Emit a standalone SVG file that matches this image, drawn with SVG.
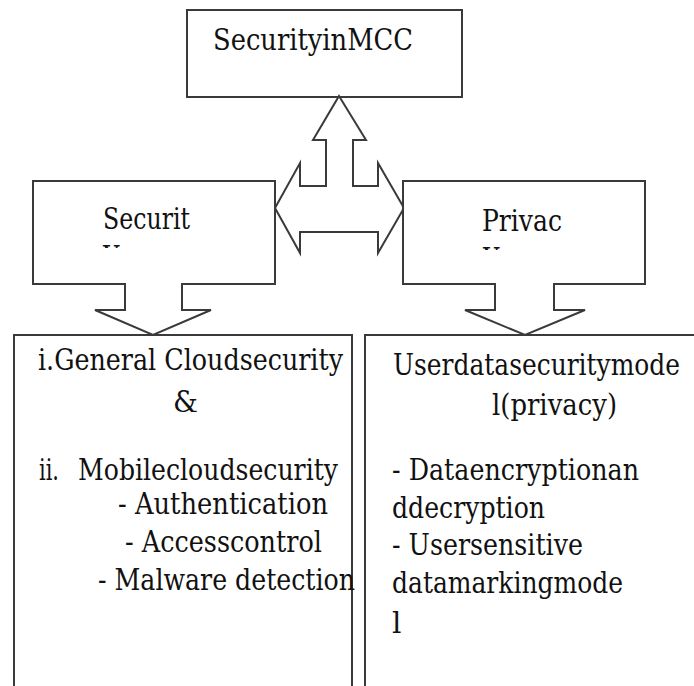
<svg xmlns="http://www.w3.org/2000/svg" width="694" height="686" viewBox="0 0 694 686">
<style>
.box{fill:#fff;stroke:#3a3a3a;stroke-width:2;stroke-linejoin:miter}
text{font-family:'DejaVu Serif','Liberation Serif',serif;font-size:29.5px;fill:#111}
</style>
<defs>
<clipPath id="c1"><rect x="95" y="243" width="40" height="5"/></clipPath>
<clipPath id="c2"><rect x="475" y="245" width="40" height="5"/></clipPath>
</defs>
<rect width="694" height="686" fill="#fff"/>
<g id="security-in-mcc">
<rect class="box" x="187" y="10" width="275" height="87"/>
<text x="213" y="50" textLength="200" lengthAdjust="spacingAndGlyphs">SecurityinMCC</text>
</g>
<g id="connectors">
<path class="box" d="M339,96 L366,140 H353 V186 H378 V163 L404,208 L378,253 V232 H300 V253 L275,208 L300,163 V186 H326 V140 H313 Z"/>
</g>
<g id="general-security-box">
<rect class="box" x="14" y="335" width="338" height="400"/>
<text x="38" y="370" textLength="305" lengthAdjust="spacingAndGlyphs">i.General Cloudsecurity</text>
<text x="173" y="412" textLength="25" lengthAdjust="spacingAndGlyphs">&amp;</text>
<text x="39" y="480" textLength="20" lengthAdjust="spacingAndGlyphs">ii.</text>
<text x="78" y="480" textLength="260" lengthAdjust="spacingAndGlyphs">Mobilecloudsecurity</text>
<text x="118" y="514" textLength="210" lengthAdjust="spacingAndGlyphs">- Authentication</text>
<text x="125" y="552" textLength="197" lengthAdjust="spacingAndGlyphs">- Accesscontrol</text>
<text x="98" y="590" textLength="257" lengthAdjust="spacingAndGlyphs">- Malware detection</text>
</g>
<g id="privacy-model-box">
<rect class="box" x="365" y="335" width="340" height="400"/>
<text x="393" y="375" textLength="287" lengthAdjust="spacingAndGlyphs">Userdatasecuritymode</text>
<text x="492" y="415" textLength="125" lengthAdjust="spacingAndGlyphs">l(privacy)</text>
<text x="392" y="480" textLength="247" lengthAdjust="spacingAndGlyphs">- Dataencryptionan</text>
<text x="392" y="518" textLength="153" lengthAdjust="spacingAndGlyphs">ddecryption</text>
<text x="392" y="555" textLength="191" lengthAdjust="spacingAndGlyphs">- Usersensitive</text>
<text x="392" y="593" textLength="231" lengthAdjust="spacingAndGlyphs">datamarkingmode</text>
<text x="392" y="633">l</text>
</g>
<g id="security">
<path class="box" d="M33,181 H275 V284 H182 V310 H211 L153,335 L95,310 H125 V284 H33 Z"/>
<text x="103" y="229" textLength="87" lengthAdjust="spacingAndGlyphs">Securit</text>
<text x="103" y="261" clip-path="url(#c1)">y</text>
</g>
<g id="privacy">
<path class="box" d="M403,181 H645 V284 H554 V310 H585 L525,335 L465,310 H495 V284 H403 Z"/>
<text x="482" y="231" textLength="80" lengthAdjust="spacingAndGlyphs">Privac</text>
<text x="483" y="263" clip-path="url(#c2)">y</text>
</g>
</svg>
